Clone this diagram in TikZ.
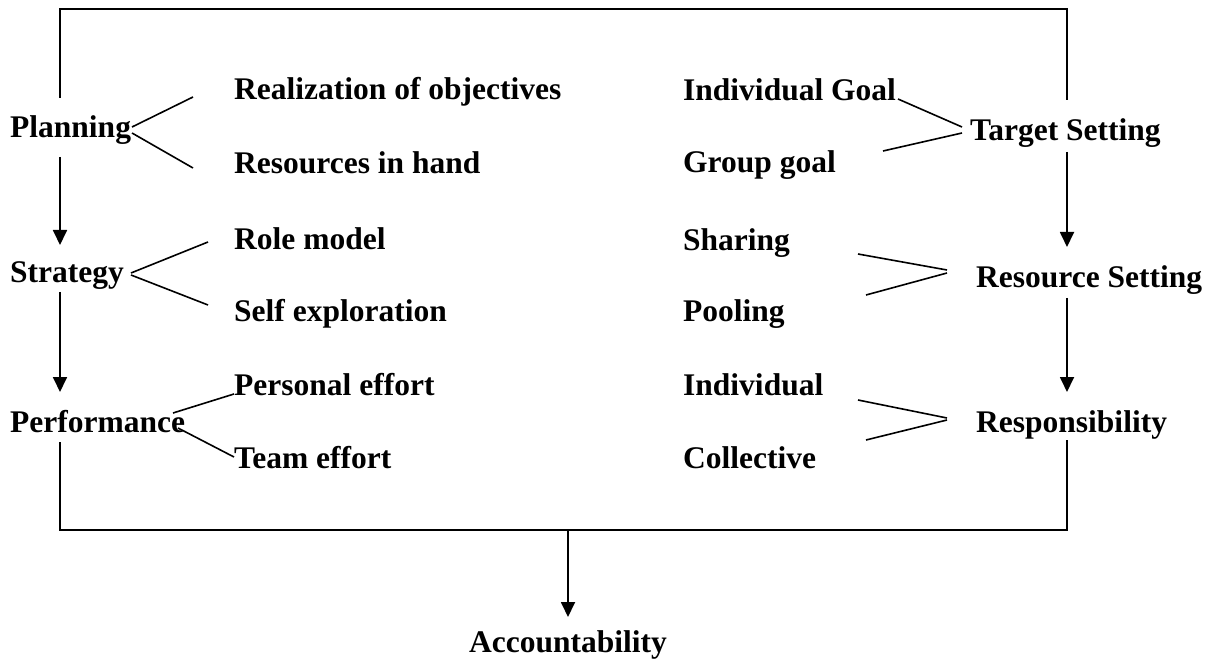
\documentclass[tikz,border=0pt]{standalone}
\usepackage{fontspec}
\setmainfont{Liberation Serif}
\usetikzlibrary{arrows.meta}
\begin{document}
\begin{tikzpicture}[x=1pt,y=-1pt,
  lbl/.style={anchor=base west,inner sep=0pt,font=\fontsize{31.5}{36}\selectfont\bfseries},
  ln/.style={line width=1.8pt,line cap=butt},
  fork/.style={line width=1.6pt},
  arr/.style={line width=1.8pt,-{Triangle[width=14pt,length=15pt]}}]
\useasboundingbox (0,0) rectangle (1210,660);
% labels
\node[lbl] (plan)  at (10,138)  {Planning};
\node[lbl] (strat) at (10,283)  {Strategy};
\node[lbl] (perf)  at (10,432)  {Performance};
\node[lbl] (real)  at (234,100) {Realization of objectives};
\node[lbl] (res)   at (234,174) {Resources in hand};
\node[lbl] (role)  at (234,250) {Role model};
\node[lbl] (self)  at (234,321) {Self exploration};
\node[lbl] (pers)  at (234,395) {Personal effort};
\node[lbl] (team)  at (234,468) {Team effort};
\node[lbl] (igoal) at (683,101) {Individual Goal};
\node[lbl] (ggoal) at (683,173) {Group goal};
\node[lbl] (shar)  at (683,251) {Sharing};
\node[lbl] (pool)  at (683,322) {Pooling};
\node[lbl] (indiv) at (683,395) {Individual};
\node[lbl] (coll)  at (683,468) {Collective};
\node[lbl] (targ)  at (970,141) {Target Setting};
\node[lbl] (rset)  at (976,288) {Resource Setting};
\node[lbl] (resp)  at (976,432) {Responsibility};
\node[lbl,anchor=base] (acc) at (568,652) {Accountability};
% frame coordinates
\coordinate (tl) at (60,9);
\coordinate (tr) at (1067,9);
\coordinate (bl) at (60,530);
\coordinate (br) at (1067,530);
\coordinate (bm) at (568,530);
\coordinate (planA) at (60,98);
\coordinate (planB) at (60,157);
\coordinate (stratA) at (60,245);
\coordinate (stratB) at (60,292);
\coordinate (perfA) at (60,392);
\coordinate (perfB) at (60,442);
\coordinate (targA) at (1067,100);
\coordinate (targB) at (1067,152);
\coordinate (rsetA) at (1067,247);
\coordinate (rsetB) at (1067,298);
\coordinate (respA) at (1067,392);
\coordinate (respB) at (1067,440);
\coordinate (accA) at (568,617);
% frame
\draw[ln] (planA) -- (tl) -- (tr) -- (targA);
\draw[ln] (perfB) -- (bl) -- (br) -- (respB);
\draw[arr] (planB) -- (stratA);
\draw[arr] (stratB) -- (perfA);
\draw[arr] (targB) -- (rsetA);
\draw[arr] (rsetB) -- (respA);
\draw[arr] (bm) -- (accA);
% forks left
\coordinate (pf1) at (132,127); \coordinate (pe1) at (193,97);
\coordinate (pf2) at (132,133); \coordinate (pe2) at (193,168);
\coordinate (sf1) at (131,273); \coordinate (se1) at (208,242);
\coordinate (sf2) at (131,275); \coordinate (se2) at (208,305);
\coordinate (ff1) at (173,413); \coordinate (fe1) at (234,394);
\coordinate (ff2) at (178,428); \coordinate (fe2) at (234,457);
\draw[fork] (pf1) -- (pe1);
\draw[fork] (pf2) -- (pe2);
\draw[fork] (sf1) -- (se1);
\draw[fork] (sf2) -- (se2);
\draw[fork] (ff1) -- (fe1);
\draw[fork] (ff2) -- (fe2);
% forks right
\coordinate (tf1) at (962,127); \coordinate (te1) at (898,99);
\coordinate (tf2) at (962,133); \coordinate (te2) at (883,151);
\coordinate (rf1) at (947,270); \coordinate (re1) at (858,254);
\coordinate (rf2) at (947,273); \coordinate (re2) at (866,295);
\coordinate (qf1) at (947,418); \coordinate (qe1) at (858,400);
\coordinate (qf2) at (947,420); \coordinate (qe2) at (866,440);
\draw[fork] (te1) -- (tf1);
\draw[fork] (te2) -- (tf2);
\draw[fork] (re1) -- (rf1);
\draw[fork] (re2) -- (rf2);
\draw[fork] (qe1) -- (qf1);
\draw[fork] (qe2) -- (qf2);
\end{tikzpicture}
\end{document}
